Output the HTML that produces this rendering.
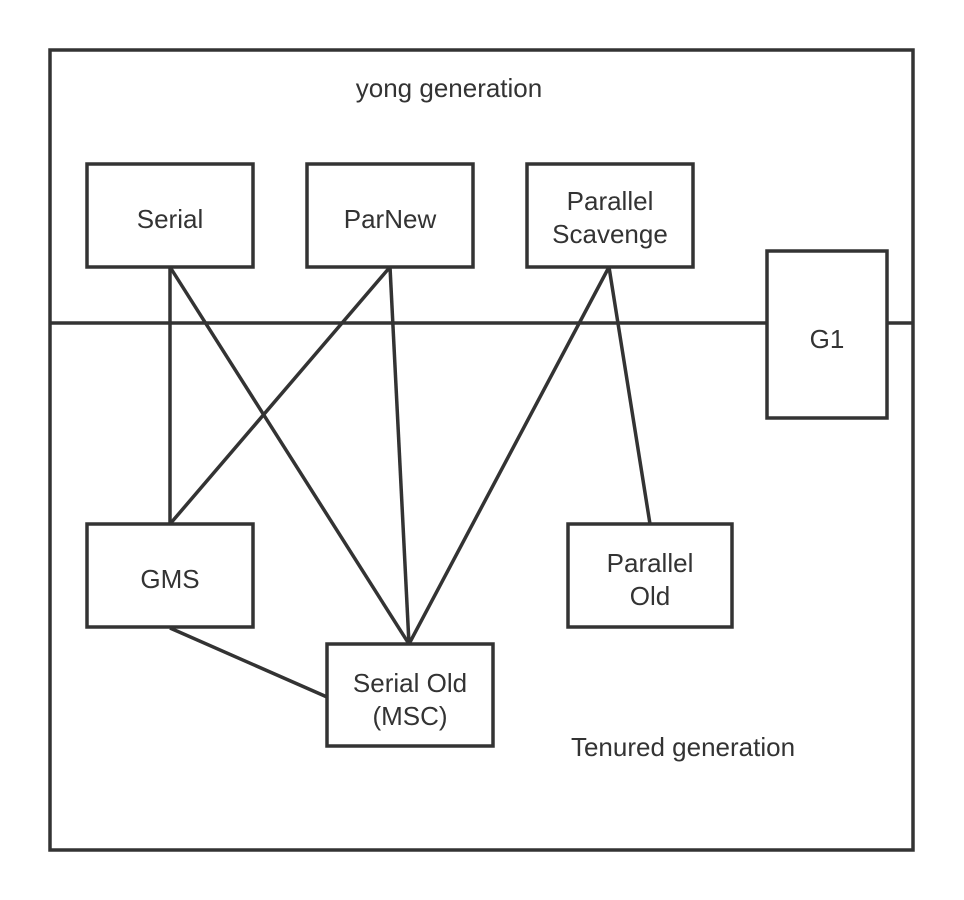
<!DOCTYPE html>
<html><head><meta charset="utf-8"><style>
html,body{margin:0;padding:0;background:#fff;}
svg{display:block}
text{font-family:"Liberation Sans",sans-serif;font-size:26px;fill:#333;text-anchor:middle}
</style></head><body>
<svg width="964" height="900" viewBox="0 0 964 900">
<g stroke="#333" stroke-width="3.5" fill="none">
<rect x="50" y="50" width="863" height="800"/>
<line x1="50" y1="323" x2="767" y2="323"/>
<line x1="887" y1="323" x2="913" y2="323"/>
<line x1="170" y1="267" x2="170" y2="524"/>
<line x1="170" y1="267" x2="409" y2="644"/>
<line x1="390" y1="267" x2="170" y2="524"/>
<line x1="390" y1="267" x2="409" y2="644"/>
<line x1="609" y1="267" x2="409" y2="644"/>
<line x1="609" y1="267" x2="650" y2="524"/>
<line x1="170" y1="628" x2="327" y2="697"/>
</g>
<g stroke="#333" stroke-width="3.5" fill="#fff">
<rect x="87" y="164" width="166" height="103"/>
<rect x="307" y="164" width="166" height="103"/>
<rect x="527" y="164" width="166" height="103"/>
<rect x="767" y="251" width="120" height="167"/>
<rect x="87" y="524" width="166" height="103"/>
<rect x="568" y="524" width="164" height="103"/>
<rect x="327" y="644" width="166" height="102"/>
</g>
<text x="449" y="97">yong generation</text>
<text x="170" y="228">Serial</text>
<text x="390" y="228">ParNew</text>
<text x="610" y="210">Parallel</text>
<text x="610" y="243">Scavenge</text>
<text x="827" y="348">G1</text>
<text x="170" y="588">GMS</text>
<text x="650" y="572">Parallel</text>
<text x="650" y="605">Old</text>
<text x="410" y="692">Serial Old</text>
<text x="410" y="725">(MSC)</text>
<text x="683" y="756">Tenured generation</text>
</svg>
</body></html>
